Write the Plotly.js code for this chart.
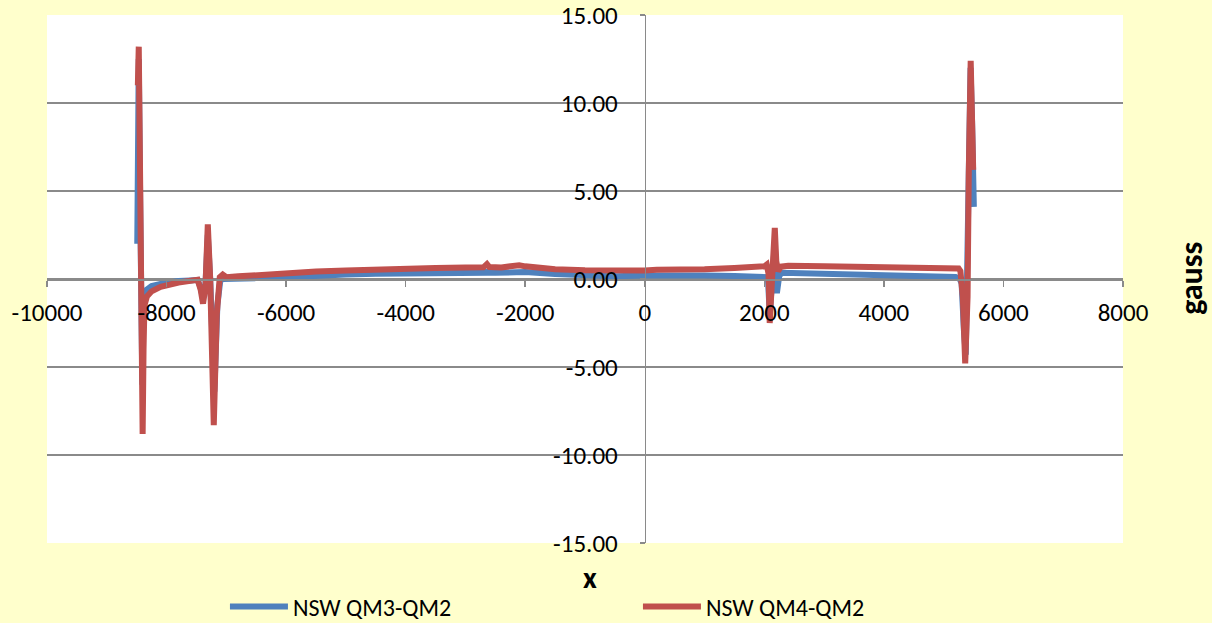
<!DOCTYPE html>
<html>
<head>
<meta charset="utf-8">
<script src="https://cdn.plot.ly/plotly-3.0.1.min.js"></script>
<style>
html,body{margin:0;padding:0;background:#FFFFCC;}
#chart{width:1212px;height:623px;}
</style>
</head>
<body>
<div id="chart"></div>
<script>
// ---- data ----
const seriesNames = ["NSW QM3-QM2", "NSW QM4-QM2"];

const xQM3 = [-8490,-8480,-8465,-8440,-8420,-8405,-8390,-8370,-8330,-8250,-8100,-8000,-7800,-7600,-7480,-7430,-7390,-7350,-7310,-7270,-7200,-7150,-7100,-7050,-6900,-6500,-6000,-5500,-5000,-4500,-4000,-3500,-3000,-2660,-2640,-2620,-2500,-2100,-2000,-1500,-1000,-500,0,500,1000,1500,2000,2060,2090,2175,2210,2250,2300,3000,4000,4500,5000,5200,5270,5300,5340,5370,5410,5450,5475,5495,5505];
const yQM3 = [2.0,6.0,12.5,4.0,-3.0,-6.0,-2.0,-1.0,-0.6,-0.4,-0.28,-0.2,-0.12,-0.08,-0.05,-0.5,-1.1,-0.4,2.5,0.0,-6.4,-1.5,-0.05,0.0,0.0,0.05,0.1,0.2,0.26,0.3,0.33,0.35,0.36,0.36,0.5,0.36,0.35,0.45,0.4,0.28,0.2,0.15,0.2,0.22,0.2,0.17,0.14,0.1,-2.0,2.0,-0.8,0.2,0.36,0.3,0.25,0.2,0.15,0.12,0.0,-0.25,-3.0,-4.3,4.0,12.0,9.0,5.9,4.1];

const xQM4 = [-8480,-8465,-8440,-8420,-8400,-8385,-8370,-8330,-8250,-8100,-8000,-7800,-7600,-7480,-7430,-7390,-7350,-7310,-7270,-7210,-7160,-7110,-7060,-7000,-6800,-6400,-6000,-5500,-5000,-4500,-4000,-3500,-3000,-2700,-2640,-2600,-2400,-2200,-2100,-2000,-1800,-1500,-1000,-500,-250,0,200,500,1000,1500,1900,2000,2040,2070,2090,2120,2150,2175,2200,2230,2280,2400,3000,4000,4500,5000,5200,5250,5280,5320,5360,5400,5420,5452,5475,5494];
const yQM4 = [11.0,13.2,5.0,-4.0,-8.8,-4.0,-1.5,-1.0,-0.7,-0.45,-0.35,-0.2,-0.1,-0.05,-0.6,-1.4,-0.5,3.1,0.0,-8.3,-2.0,0.1,0.25,0.1,0.15,0.25,0.35,0.42,0.48,0.55,0.58,0.62,0.65,0.66,0.85,0.68,0.66,0.72,0.78,0.72,0.62,0.55,0.5,0.45,0.42,0.48,0.52,0.5,0.55,0.62,0.68,0.72,0.82,0.3,-2.5,-1.0,1.5,2.9,1.0,0.45,0.7,0.75,0.72,0.68,0.62,0.58,0.55,0.6,0.45,-1.0,-4.8,-1.0,6.0,12.4,9.0,6.2];

const xTickVals = [-10000,-8000,-6000,-4000,-2000,0,2000,4000,6000,8000];
const xTickText = ["-10000","-8000","-6000","-4000","-2000","0","2000","4000","6000","8000"];
const yTickVals = [-15,-10,-5,0,5,10,15];
const yTickText = ["-15.00","-10.00","-5.00","0.00","5.00","10.00","15.00"];

const xTitle = "x";
const yTitle = "gauss";

// ---- chart ----
const FONT = "Carlito, Lato, 'Open Sans', sans-serif";
const GRID = "#8a8a8a";

const traces = [
  {x: xQM3, y: yQM3, name: seriesNames[0], type: "scatter", mode: "lines",
   line: {color: "#4F81BD", width: 6}},
  {x: xQM4, y: yQM4, name: seriesNames[1], type: "scatter", mode: "lines",
   line: {color: "#C0504D", width: 6}}
];

const layout = {
  width: 1212, height: 623,
  paper_bgcolor: "#FFFFCC",
  plot_bgcolor: "#FFFFFF",
  margin: {l: 47, r: 89, t: 15, b: 80, autoexpand: false},
  font: {family: FONT, color: "#000"},
  showlegend: true,
  legend: {
    orientation: "h", xref: "container", yref: "container",
    x: 0.1856, xanchor: "left", y: 0.026, yanchor: "middle",
    font: {family: FONT, size: 24, color: "#000"},
    bgcolor: "rgba(0,0,0,0)", entrywidth: 340, entrywidthmode: "pixels",
    itemwidth: 58
  },
  xaxis: {
    range: [-10000, 8000], anchor: "free", position: 0.5,
    showgrid: false, zeroline: false,
    showline: true, linecolor: GRID, linewidth: 1.5,
    ticks: "outside", ticklen: 6, tickcolor: GRID, tickwidth: 1.5,
    tickmode: "array", tickvals: xTickVals, ticktext: xTickText,
    tickfont: {family: FONT, size: 25, color: "#000"},
    ticklabelstandoff: 4, ticklabeloverflow: "allow"
  },
  yaxis: {
    range: [-15, 15], anchor: "free", position: 10000/18000,
    showgrid: true, gridcolor: GRID, gridwidth: 1.5, zeroline: false,
    showline: true, linecolor: GRID, linewidth: 1.5,
    ticks: "outside", ticklen: 5, tickcolor: GRID, tickwidth: 1.5,
    tickmode: "array", tickvals: yTickVals, ticktext: yTickText,
    tickfont: {family: FONT, size: 25, color: "#000"},
    ticklabelstandoff: 17, ticklabeloverflow: "allow"
  },
  annotations: [
    {text: "<b>" + xTitle + "</b>", xref: "paper", yref: "paper", x: 0.5046, y: -0.0644,
     xanchor: "center", yanchor: "middle", showarrow: false,
     font: {family: FONT, size: 30, color: "#000"}},
    {text: "<b>" + yTitle + "</b>", xref: "paper", yref: "paper", x: 1.064, y: 0.502,
     xanchor: "center", yanchor: "middle", showarrow: false, textangle: -90,
     font: {family: FONT, size: 32, color: "#000"}}
  ]
};

Plotly.newPlot("chart", traces, layout, {displayModeBar: false, staticPlot: true});
</script>
</body>
</html>
